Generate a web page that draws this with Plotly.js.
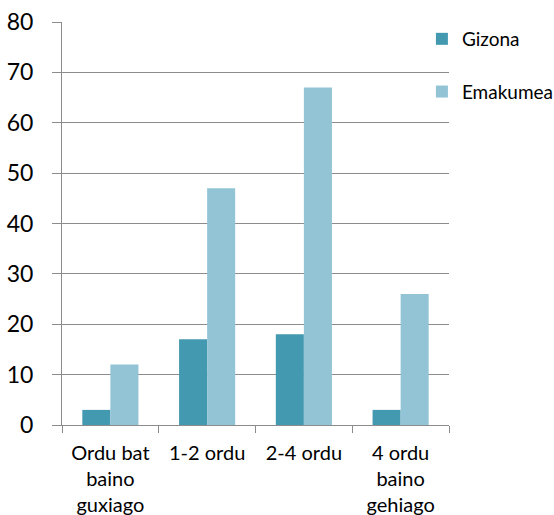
<!DOCTYPE html>
<html>
<head>
<meta charset="utf-8">
<script src="https://cdn.plot.ly/plotly-3.0.1.min.js"></script>
<style>html,body{margin:0;padding:0;background:#fff;}#chart{width:554px;height:515px;}</style>
</head>
<body>
<div id="chart"></div>
<script>
var categories = ["Ordu bat<br>baino<br>guxiago", "1-2 ordu", "2-4 ordu", "4 ordu<br>baino<br>gehiago"];
var gizona = [3, 17, 18, 3];
var emakumea = [12, 47, 67, 26];
var seriesNames = ["Gizona", "Emakumea"];

var font = "Lato, 'Liberation Sans', sans-serif";
var axisGray = "#8c8c8c";

var traces = [
  {type: "bar", name: seriesNames[0], x: categories, y: gizona,
   marker: {color: "#4399b0"}, legendgroup: "g1", hoverinfo: "y"},
  {type: "bar", name: seriesNames[1], x: categories, y: emakumea,
   marker: {color: "#93c4d6"}, legendgroup: "g2", hoverinfo: "y"}
];

var layout = {
  width: 554, height: 515,
  margin: {l: 62, r: 105, t: 22, b: 90, pad: 0, autoexpand: false},
  paper_bgcolor: "#fff", plot_bgcolor: "#fff",
  barmode: "group", bargap: 0.42, bargroupgap: 0,
  font: {family: font, color: "#000"},
  showlegend: true,
  legend: {x: 0.93, xanchor: "left", y: 1.005, yanchor: "top",
           font: {family: font, size: 19, color: "#000"},
           traceorder: "grouped", tracegroupgap: 25,
           itemwidth: 30, bgcolor: "rgba(0,0,0,0)"},
  xaxis: {type: "category", showline: true, linecolor: axisGray, linewidth: 1,
          ticks: "outside", tickson: "boundaries", ticklen: 7, tickcolor: axisGray,
          tickangle: 0, ticklabelstandoff: 10,
          tickfont: {family: font, size: 20, color: "#000"}, showgrid: false,
          zeroline: false, fixedrange: true},
  yaxis: {range: [0, 80], dtick: 10, tick0: 0, showgrid: true, gridcolor: axisGray,
          gridwidth: 1, showline: true, linecolor: axisGray, linewidth: 1,
          ticks: "outside", ticklen: 9, tickcolor: axisGray, zeroline: false,
          tickfont: {family: font, size: 23, color: "#000"}, ticklabelstandoff: 14,
          fixedrange: true}
};

Plotly.newPlot("chart", traces, layout, {displayModeBar: false, staticPlot: true});
</script>
</body>
</html>
